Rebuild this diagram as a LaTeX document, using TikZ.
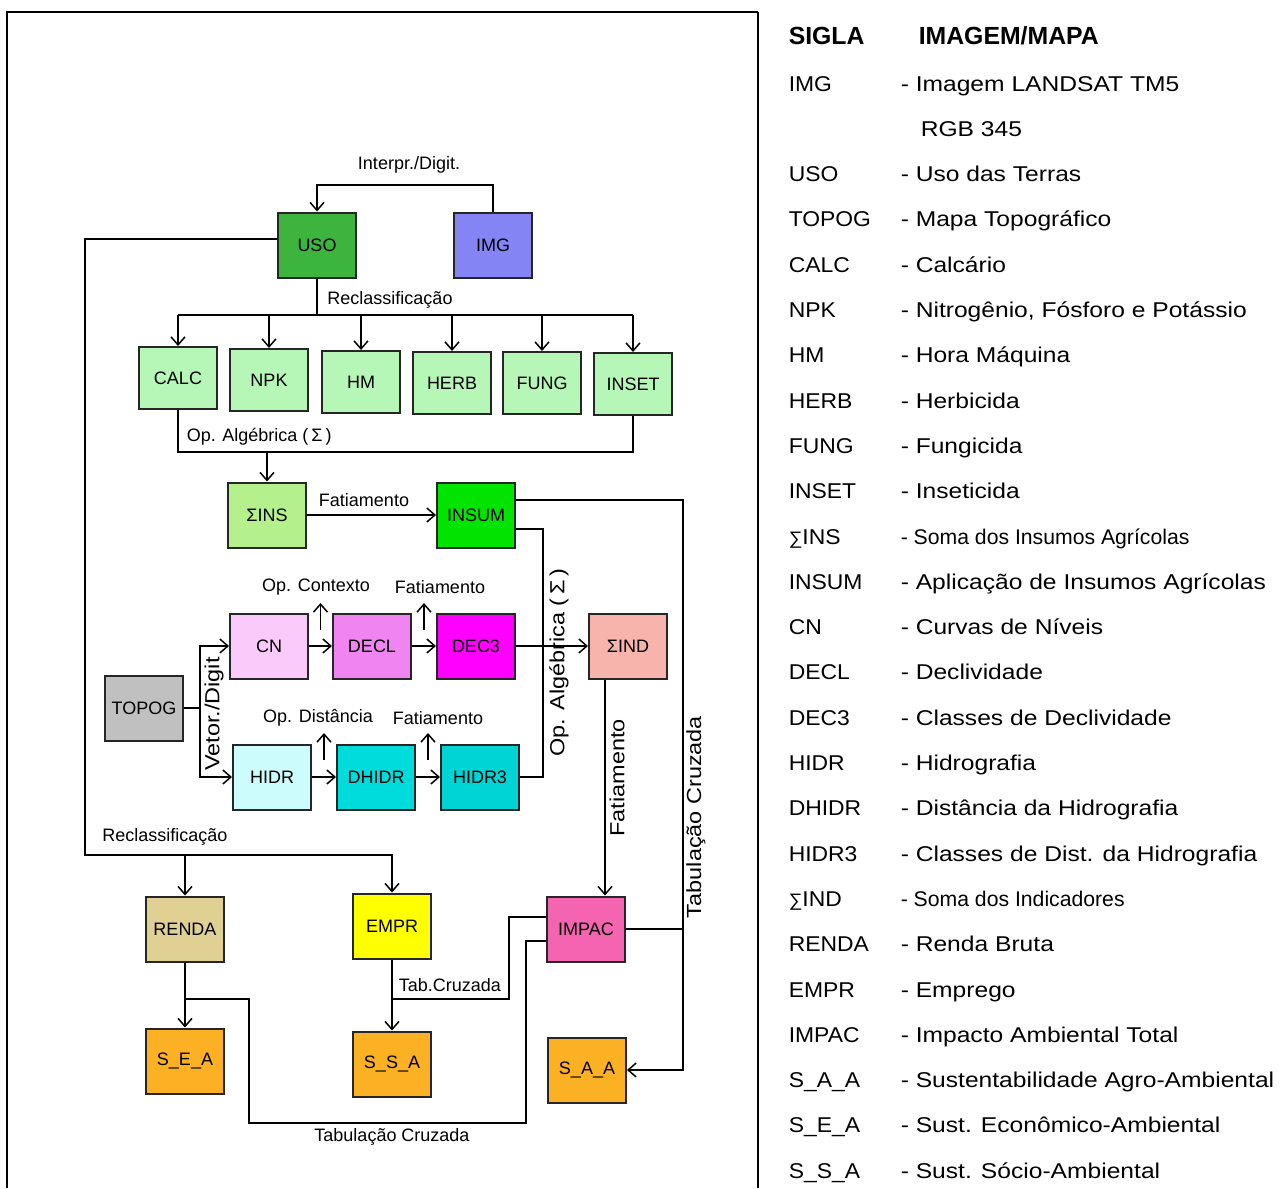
\documentclass[tikz,border=0pt]{standalone}
\usepackage{fontspec}
\setmainfont{Liberation Sans}
\newfontfamily\legendfont[FakeStretch=1.15]{Liberation Sans}
\newfontfamily\siglafont[FakeStretch=1.07]{Liberation Sans}
\usetikzlibrary{arrows.meta, calc}
\definecolor{usoColor}{HTML}{3DB43D}
\definecolor{imgColor}{HTML}{8484F4}
\definecolor{insColor}{HTML}{B6F6B6}
\definecolor{sinsColor}{HTML}{B4F08C}
\definecolor{insumColor}{HTML}{00E400}
\definecolor{cnColor}{HTML}{FACAFA}
\definecolor{declColor}{HTML}{F084F0}
\definecolor{dec3Color}{HTML}{FF00FF}
\definecolor{sindColor}{HTML}{F6B4AC}
\definecolor{topogColor}{HTML}{C0C0C0}
\definecolor{hidrColor}{HTML}{CCFCFC}
\definecolor{dhidrColor}{HTML}{00DCDC}
\definecolor{hidr3Color}{HTML}{00D4D4}
\definecolor{rendaColor}{HTML}{E0D094}
\definecolor{emprColor}{HTML}{FFFF00}
\definecolor{impacColor}{HTML}{F464B0}
\definecolor{susColor}{HTML}{FCB024}
\tikzset{
    mapbox/.style={draw=black!85, line width=1pt, minimum width=39pt, minimum height=32.5pt,
        inner sep=0pt, font=\fontsize{9}{10}\selectfont},
    rowbox/.style={mapbox, fill=insColor, minimum height=31pt},
    flow/.style={-{Straight Barb[length=4pt,width=7pt]}},
    oplabel/.style={inner sep=0pt, font=\fontsize{9}{10}\selectfont},
    vlabel/.style={inner sep=0pt, rotate=90, font={\fontsize{10.2}{12}\legendfont}},
    sigla/.style={anchor=base west, inner sep=0pt, font={\fontsize{10.7}{12}\siglafont}},
    desc/.style={anchor=base west, inner sep=0pt, font={\fontsize{10.7}{12}\legendfont}},
    sumdesc/.style={anchor=base west, inner sep=0pt, font=\fontsize{10.6}{12}\selectfont},
    header/.style={anchor=base west, inner sep=0pt, font={\fontsize{12.4}{14}\selectfont\bfseries}},
}

\begin{document}
\begin{tikzpicture}[x=0.5pt, y=-0.5pt, line width=0.75pt]
    \useasboundingbox (0,0) rectangle (1283,1188);
    % frame
    \draw[line width=1.2pt] (7,1188) -- (7,12) -- (758,12);
    \draw[line width=0.8pt] (758,12) -- (758,1188);

    % maps
    \node[mapbox, fill=usoColor] (uso) at (317,245) {USO};
    \node[mapbox, fill=imgColor] (img) at (493,245) {IMG};
    \node[rowbox] (calc) at (178,378) {CALC};
    \node[rowbox] (npk) at (269,380) {NPK};
    \node[rowbox] (hm) at (361,382) {HM};
    \node[rowbox] (herb) at (452,383) {HERB};
    \node[rowbox] (fung) at (542,383) {FUNG};
    \node[rowbox] (inset) at (633,384) {INSET};
    \node[mapbox, fill=sinsColor] (sins) at (267,515) {ΣINS};
    \node[mapbox, fill=insumColor] (insum) at (476,515) {INSUM};
    \node[mapbox, fill=cnColor] (cn) at (269,646) {CN};
    \node[mapbox, fill=declColor] (decl) at (372,646) {DECL};
    \node[mapbox, fill=dec3Color] (dec3) at (476,646) {DEC3};
    \node[mapbox, fill=sindColor] (sind) at (628,646) {ΣIND};
    \node[mapbox, fill=topogColor] (topog) at (144,708) {TOPOG};
    \node[mapbox, fill=hidrColor] (hidr) at (272,777) {HIDR};
    \node[mapbox, fill=dhidrColor] (dhidr) at (376,777) {DHIDR};
    \node[mapbox, fill=hidr3Color] (hidr3) at (480,777) {HIDR3};
    \node[mapbox, fill=rendaColor] (renda) at (185,929) {RENDA};
    \node[mapbox, fill=emprColor] (empr) at (392,926) {EMPR};
    \node[mapbox, fill=impacColor] (impac) at (586,929) {IMPAC};
    \node[mapbox, fill=susColor] (sea) at (185,1061) {S\_E\_A};
    \node[mapbox, fill=susColor] (ssa) at (392,1064) {S\_S\_A};
    \node[mapbox, fill=susColor] (saa) at (587,1070) {S\_A\_A};

    % operations
    \coordinate (interp) at (409,185);
    \draw[flow] (img.north) |- (interp) -| (uso.north);
    \node[oplabel] (interpLbl) at (409,165) {Interpr./Digit.};

    \coordinate (recl) at (317,315);
    \draw (uso.south) -- (recl);
    \draw (calc.north |- recl) -- (inset.north |- recl);
    \foreach \n in {calc,npk,hm,herb,fung,inset}
        \draw[flow] (\n.north |- recl) -- (\n.north);
    \node[oplabel] (reclLbl) at (390,300) {Reclassificação};

    \coordinate (alg) at (267,452);
    \draw (calc.south) |- (alg) -| (inset.south);
    \draw[flow] (alg) -- (sins.north);
    \node[oplabel, anchor=west] (algLbl) at (186,437) {Op. Algébrica (\,Σ\,)};

    \coordinate (lowrec) at (85,855);
    \draw[flow] ([yshift=3pt]uso.west) -| (lowrec) -| (empr.north);
    \draw[flow] (renda.north |- lowrec) -- (renda.north);
    \node[oplabel] (lowrecLbl) at (165,837) {Reclassificação};

    \draw[flow] (sins.east) -- (insum.west);
    \node[oplabel] (fatLbl) at (364,500) {Fatiamento};

    \coordinate (tabx) at (683,500);
    \draw[flow] (insum.east |- tabx) -- (tabx) |- (saa.east);
    \draw (impac.east) -- (impac.east -| tabx);
    \node[vlabel] (tabLbl) at (696,817) {Tabulação Cruzada};

    \coordinate (algx) at (543,529);
    \draw (insum.east |- algx) -- (algx) |- (hidr3.east);
    \node[vlabel] (alg2Lbl) at (559,663) {Op. Algébrica (\,Σ\,)};

    \draw[flow] (cn.east) -- (decl.west);
    \draw[flow] (decl.east) -- (dec3.west);
    \draw[flow] (dec3.east) -- (sind.west);
    \draw[flow] ($(cn.east)!.5!(decl.west)+(0,-16)$) -- ++(0,-27);
    \draw[flow] ($(decl.east)!.5!(dec3.west)+(0,-16)$) -- ++(0,-27);
    \node[oplabel] (ctxLbl) at (316,587) {Op. Contexto};
    \node[oplabel] (fat3Lbl) at (440,587) {Fatiamento};

    \coordinate (vet) at (200,708);
    \draw (topog.east) -- (vet);
    \draw[flow] (vet) |- (cn.west);
    \draw[flow] (vet) |- (hidr.west);
    \node[vlabel] (vetLbl) at (214,714) {Vetor./Digit};

    \draw[flow] (hidr.east) -- (dhidr.west);
    \draw[flow] (dhidr.east) -- (hidr3.west);
    \draw[flow] ($(hidr.east)!.5!(dhidr.west)+(0,-17)$) -- ++(0,-27);
    \draw[flow] ($(dhidr.east)!.5!(hidr3.west)+(0,-17)$) -- ++(0,-27);
    \node[oplabel] (distLbl) at (318,718) {Op. Distância};
    \node[oplabel] (fat4Lbl) at (438,718) {Fatiamento};

    \coordinate (fatx) at (605,800);
    \draw[flow] (sind.south -| fatx) -- (impac.north -| fatx);
    \node[vlabel] (fat2Lbl) at (617,778) {Fatiamento};

    \coordinate (rj) at (249,999);
    \draw[flow] (renda.south) -- (sea.north);
    \draw (renda.south |- rj) -- (rj) |- (526,1123) |- ([yshift=-6pt]impac.west);
    \node[oplabel] (tab2Lbl) at (392,1137) {Tabulação Cruzada};

    \coordinate (ej) at (509,999);
    \draw[flow] (empr.south) -- (ssa.north);
    \draw (empr.south |- ej) -- (ej) |- ([yshift=6pt]impac.west);
    \node[oplabel, anchor=west] (tab3Lbl) at (398,985) {Tab.Cruzada};

    % legend
    \node[header] (hdrSig) at (788,45) {SIGLA};
    \node[header] (hdrMap) at (918,45) {IMAGEM/MAPA};
    \foreach \row/\sig/\txt in {1/IMG/Imagem LANDSAT TM5, 3/USO/Uso das Terras,
        4/TOPOG/Mapa Topográfico, 5/CALC/Calcário, 6/NPK/{Nitrogênio, Fósforo e Potássio},
        7/HM/Hora Máquina, 8/HERB/Herbicida, 9/FUNG/Fungicida, 10/INSET/Inseticida,
        12/INSUM/Aplicação de Insumos Agrícolas, 13/CN/Curvas de Níveis, 14/DECL/Declividade,
        15/DEC3/Classes de Declividade, 16/HIDR/Hidrografia, 17/DHIDR/Distância da Hidrografia,
        18/HIDR3/Classes de Dist. da Hidrografia, 20/RENDA/Renda Bruta, 21/EMPR/Emprego,
        22/IMPAC/Impacto Ambiental Total, 23/S\_A\_A/Sustentabilidade Agro-Ambiental,
        24/S\_E\_A/Sust. Econômico-Ambiental, 25/S\_S\_A/Sust. Sócio-Ambiental} {
        \node[sigla] (sig\row) at (788,{91+45.3*(\row-1)}) {\sig};
        \node[desc] (desc\row) at (900,{91+45.3*(\row-1)}) {- \txt};
    }
    \node[desc] (desc2) at (920,{91+45.3}) {RGB 345};
    \node[sigla] (sig11) at (788,{91+45.3*10}) {{\fontsize{9}{10}\selectfont∑}INS};
    \node[sumdesc] (desc11) at (900,{91+45.3*10}) {- Soma dos Insumos Agrícolas};
    \node[sigla] (sig19) at (788,{91+45.3*18}) {{\fontsize{9}{10}\selectfont∑}IND};
    \node[sumdesc] (desc19) at (900,{91+45.3*18}) {- Soma dos Indicadores};
\end{tikzpicture}
\end{document}
